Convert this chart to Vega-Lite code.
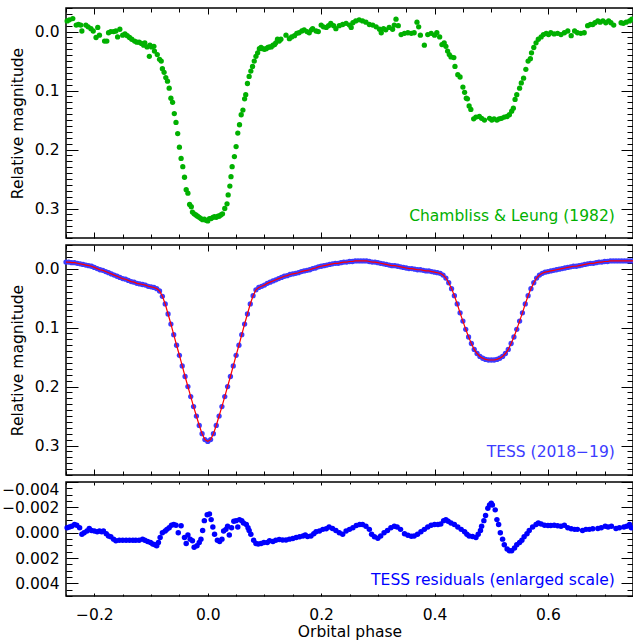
{
"$schema": "https://vega.github.io/schema/vega-lite/v6.json",
"autosize": {"type": "pad"},
"padding": {"left": 0, "top": 0, "right": 0, "bottom": 0},
"background": "white",
"spacing": 7,
"bounds": "flush",
"config": {
  "view": {"stroke": "black", "strokeWidth": 1.5},
  "axis": {"labelFont": "DejaVu Sans", "labelFontSize": 15.5, "titleFont": "DejaVu Sans", "titleFontSize": 15.5, "titleFontWeight": "normal", "labelColor": "black", "titleColor": "black", "tickColor": "black", "tickWidth": 1, "domain": false, "grid": false, "labelOverlap": false}
},
"datasets": {
"cl": [
{"phase":-0.248,"mag":-0.018},{"phase":-0.244,"mag":-0.020},{"phase":-0.238,"mag":-0.022},{"phase":-0.232,"mag":-0.011},{"phase":-0.228,"mag":-0.012},{"phase":-0.224,"mag":-0.011},{"phase":-0.222,"mag":-0.001},{"phase":-0.215,"mag":-0.011},{"phase":-0.211,"mag":-0.008},{"phase":-0.206,"mag":-0.005},{"phase":-0.202,"mag":-0.001},{"phase":-0.197,"mag":0.010},{"phase":-0.194,"mag":-0.007},{"phase":-0.191,"mag":0.006},{"phase":-0.182,"mag":0.016},{"phase":-0.178,"mag":0.016},{"phase":-0.175,"mag":0.002},{"phase":-0.171,"mag":0.000},{"phase":-0.166,"mag":0.000},{"phase":-0.162,"mag":-0.001},{"phase":-0.159,"mag":0.009},{"phase":-0.155,"mag":-0.004},{"phase":-0.150,"mag":0.006},{"phase":-0.146,"mag":0.004},{"phase":-0.142,"mag":0.007},{"phase":-0.138,"mag":0.010},{"phase":-0.134,"mag":0.013},{"phase":-0.129,"mag":0.016},{"phase":-0.125,"mag":0.018},{"phase":-0.121,"mag":0.018},{"phase":-0.117,"mag":0.020},{"phase":-0.113,"mag":0.023},{"phase":-0.111,"mag":0.019},{"phase":-0.107,"mag":0.026},{"phase":-0.103,"mag":0.042},{"phase":-0.102,"mag":0.023},{"phase":-0.099,"mag":0.026},{"phase":-0.095,"mag":0.025},{"phase":-0.094,"mag":0.033},{"phase":-0.089,"mag":0.039},{"phase":-0.085,"mag":0.047},{"phase":-0.082,"mag":0.050},{"phase":-0.080,"mag":0.063},{"phase":-0.077,"mag":0.069},{"phase":-0.074,"mag":0.078},{"phase":-0.071,"mag":0.084},{"phase":-0.068,"mag":0.096},{"phase":-0.065,"mag":0.113},{"phase":-0.062,"mag":0.120},{"phase":-0.059,"mag":0.139},{"phase":-0.056,"mag":0.154},{"phase":-0.053,"mag":0.173},{"phase":-0.050,"mag":0.196},{"phase":-0.047,"mag":0.215},{"phase":-0.044,"mag":0.229},{"phase":-0.041,"mag":0.247},{"phase":-0.038,"mag":0.268},{"phase":-0.035,"mag":0.274},{"phase":-0.032,"mag":0.293},{"phase":-0.029,"mag":0.297},{"phase":-0.027,"mag":0.306},{"phase":-0.024,"mag":0.309},{"phase":-0.021,"mag":0.311},{"phase":-0.018,"mag":0.313},{"phase":-0.015,"mag":0.315},{"phase":-0.012,"mag":0.317},{"phase":-0.009,"mag":0.319},{"phase":-0.006,"mag":0.318},{"phase":-0.003,"mag":0.320},{"phase":0.000,"mag":0.321},{"phase":0.003,"mag":0.317},{"phase":0.006,"mag":0.317},{"phase":0.009,"mag":0.315},{"phase":0.012,"mag":0.314},{"phase":0.015,"mag":0.315},{"phase":0.018,"mag":0.313},{"phase":0.020,"mag":0.313},{"phase":0.023,"mag":0.311},{"phase":0.026,"mag":0.309},{"phase":0.030,"mag":0.300},{"phase":0.034,"mag":0.292},{"phase":0.036,"mag":0.277},{"phase":0.039,"mag":0.262},{"phase":0.041,"mag":0.246},{"phase":0.043,"mag":0.229},{"phase":0.047,"mag":0.212},{"phase":0.050,"mag":0.195},{"phase":0.053,"mag":0.172},{"phase":0.056,"mag":0.158},{"phase":0.059,"mag":0.141},{"phase":0.062,"mag":0.133},{"phase":0.065,"mag":0.114},{"phase":0.067,"mag":0.107},{"phase":0.070,"mag":0.088},{"phase":0.073,"mag":0.076},{"phase":0.076,"mag":0.067},{"phase":0.079,"mag":0.059},{"phase":0.082,"mag":0.050},{"phase":0.085,"mag":0.042},{"phase":0.088,"mag":0.036},{"phase":0.091,"mag":0.029},{"phase":0.094,"mag":0.027},{"phase":0.097,"mag":0.029},{"phase":0.100,"mag":0.030},{"phase":0.103,"mag":0.029},{"phase":0.106,"mag":0.027},{"phase":0.109,"mag":0.026},{"phase":0.112,"mag":0.026},{"phase":0.115,"mag":0.023},{"phase":0.118,"mag":0.022},{"phase":0.120,"mag":0.019},{"phase":0.123,"mag":0.013},{"phase":0.126,"mag":0.016},{"phase":0.129,"mag":0.013},{"phase":0.138,"mag":0.006},{"phase":0.144,"mag":0.012},{"phase":0.148,"mag":0.009},{"phase":0.153,"mag":0.007},{"phase":0.157,"mag":0.003},{"phase":0.161,"mag":0.002},{"phase":0.166,"mag":-0.001},{"phase":0.170,"mag":-0.003},{"phase":0.175,"mag":0.000},{"phase":0.179,"mag":0.002},{"phase":0.183,"mag":-0.003},
{"phase":0.185,"mag":-0.005},{"phase":0.191,"mag":-0.001},{"phase":0.195,"mag":0.000},{"phase":0.200,"mag":-0.011},{"phase":0.204,"mag":-0.008},{"phase":0.209,"mag":-0.007},{"phase":0.213,"mag":-0.010},{"phase":0.217,"mag":-0.014},{"phase":0.222,"mag":-0.010},{"phase":0.226,"mag":-0.005},{"phase":0.232,"mag":-0.010},{"phase":0.238,"mag":-0.012},{"phase":0.244,"mag":-0.014},{"phase":0.250,"mag":-0.011},{"phase":0.253,"mag":-0.007},{"phase":0.256,"mag":-0.015},{"phase":0.261,"mag":-0.018},{"phase":0.267,"mag":-0.020},{"phase":0.273,"mag":-0.018},{"phase":0.279,"mag":-0.016},{"phase":0.285,"mag":-0.012},{"phase":0.291,"mag":-0.011},{"phase":0.297,"mag":-0.008},{"phase":0.303,"mag":-0.004},{"phase":0.306,"mag":0.002},{"phase":0.310,"mag":-0.005},{"phase":0.314,"mag":-0.003},{"phase":0.320,"mag":-0.007},{"phase":0.326,"mag":-0.004},{"phase":0.329,"mag":-0.011},{"phase":0.332,"mag":-0.021},{"phase":0.336,"mag":-0.010},{"phase":0.341,"mag":0.005},{"phase":0.347,"mag":0.003},{"phase":0.353,"mag":0.002},{"phase":0.359,"mag":0.003},{"phase":0.364,"mag":0.002},{"phase":0.369,"mag":-0.016},{"phase":0.372,"mag":-0.008},{"phase":0.375,"mag":0.006},{"phase":0.382,"mag":0.023},{"phase":0.388,"mag":0.005},{"phase":0.394,"mag":0.003},{"phase":0.400,"mag":0.006},{"phase":0.404,"mag":0.002},{"phase":0.409,"mag":0.009},{"phase":0.413,"mag":0.022},{"phase":0.417,"mag":0.019},{"phase":0.420,"mag":0.025},{"phase":0.423,"mag":0.033},{"phase":0.426,"mag":0.039},{"phase":0.429,"mag":0.043},{"phase":0.434,"mag":0.044},{"phase":0.436,"mag":0.059},{"phase":0.441,"mag":0.073},{"phase":0.445,"mag":0.077},{"phase":0.450,"mag":0.094},{"phase":0.453,"mag":0.103},{"phase":0.456,"mag":0.113},{"phase":0.458,"mag":0.114},{"phase":0.461,"mag":0.126},{"phase":0.464,"mag":0.132},{"phase":0.469,"mag":0.148},{"phase":0.473,"mag":0.145},{"phase":0.479,"mag":0.144},{"phase":0.483,"mag":0.147},{"phase":0.488,"mag":0.150},{"phase":0.497,"mag":0.147},{"phase":0.501,"mag":0.150},{"phase":0.505,"mag":0.148},{"phase":0.510,"mag":0.150},{"phase":0.514,"mag":0.148},{"phase":0.518,"mag":0.147},{"phase":0.523,"mag":0.145},{"phase":0.528,"mag":0.144},{"phase":0.532,"mag":0.141},{"phase":0.536,"mag":0.135},{"phase":0.539,"mag":0.130},{"phase":0.542,"mag":0.115},{"phase":0.545,"mag":0.107},{"phase":0.550,"mag":0.096},{"phase":0.553,"mag":0.087},{"phase":0.557,"mag":0.079},{"phase":0.561,"mag":0.064},{"phase":0.565,"mag":0.050},{"phase":0.569,"mag":0.046},{"phase":0.571,"mag":0.036},{"phase":0.575,"mag":0.027},{"phase":0.579,"mag":0.019},{"phase":0.583,"mag":0.013},{"phase":0.588,"mag":0.009},{"phase":0.592,"mag":0.005},{"phase":0.597,"mag":0.003},{"phase":0.601,"mag":0.005},{"phase":0.605,"mag":0.002},{"phase":0.611,"mag":0.004},{"phase":0.617,"mag":0.003},{"phase":0.623,"mag":0.005},{"phase":0.629,"mag":0.002},{"phase":0.635,"mag":-0.001},{"phase":0.641,"mag":0.007},{"phase":0.647,"mag":-0.001},{"phase":0.652,"mag":0.002},{"phase":0.658,"mag":0.003},{"phase":0.664,"mag":0.002},{"phase":0.670,"mag":-0.010},{"phase":0.675,"mag":-0.012},{"phase":0.679,"mag":-0.012},{"phase":0.683,"mag":-0.015},{"phase":0.688,"mag":-0.018},{"phase":0.692,"mag":-0.016},{"phase":0.697,"mag":-0.018},{"phase":0.702,"mag":-0.015},{"phase":0.707,"mag":-0.018},{"phase":0.711,"mag":-0.015},{"phase":0.716,"mag":-0.011},{"phase":0.729,"mag":-0.015},{"phase":0.733,"mag":-0.014},{"phase":0.738,"mag":-0.016},{"phase":0.744,"mag":-0.018},{"phase":0.748,"mag":-0.021}
],
"tess": [
{"phase":-0.25,"mag":-0.011},{"phase":-0.245,"mag":-0.011},{"phase":-0.24,"mag":-0.010},{"phase":-0.235,"mag":-0.010},{"phase":-0.23,"mag":-0.009},{"phase":-0.225,"mag":-0.008},{"phase":-0.22,"mag":-0.007},{"phase":-0.215,"mag":-0.006},{"phase":-0.21,"mag":-0.005},{"phase":-0.205,"mag":-0.004},{"phase":-0.2,"mag":-0.002},{"phase":-0.195,"mag":0.000},{"phase":-0.19,"mag":0.002},{"phase":-0.185,"mag":0.003},{"phase":-0.18,"mag":0.005},{"phase":-0.175,"mag":0.007},{"phase":-0.17,"mag":0.009},{"phase":-0.165,"mag":0.011},{"phase":-0.16,"mag":0.013},{"phase":-0.155,"mag":0.015},{"phase":-0.15,"mag":0.017},{"phase":-0.145,"mag":0.018},{"phase":-0.14,"mag":0.020},{"phase":-0.135,"mag":0.022},{"phase":-0.13,"mag":0.023},{"phase":-0.125,"mag":0.025},{"phase":-0.12,"mag":0.026},{"phase":-0.115,"mag":0.027},{"phase":-0.11,"mag":0.028},{"phase":-0.105,"mag":0.030},{"phase":-0.1,"mag":0.031},{"phase":-0.095,"mag":0.032},{"phase":-0.09,"mag":0.034},{"phase":-0.085,"mag":0.038},{"phase":-0.08,"mag":0.047},{"phase":-0.075,"mag":0.060},{"phase":-0.07,"mag":0.077},{"phase":-0.065,"mag":0.094},{"phase":-0.06,"mag":0.112},{"phase":-0.055,"mag":0.130},{"phase":-0.05,"mag":0.147},{"phase":-0.045,"mag":0.165},{"phase":-0.04,"mag":0.183},{"phase":-0.035,"mag":0.200},{"phase":-0.03,"mag":0.217},{"phase":-0.025,"mag":0.234},{"phase":-0.02,"mag":0.250},{"phase":-0.015,"mag":0.266},{"phase":-0.01,"mag":0.280},{"phase":-0.005,"mag":0.290},{"phase":0,"mag":0.293},{"phase":0.005,"mag":0.290},{"phase":0.01,"mag":0.280},{"phase":0.015,"mag":0.266},{"phase":0.02,"mag":0.250},{"phase":0.025,"mag":0.234},{"phase":0.03,"mag":0.217},{"phase":0.035,"mag":0.200},{"phase":0.04,"mag":0.183},{"phase":0.045,"mag":0.165},{"phase":0.05,"mag":0.147},{"phase":0.055,"mag":0.130},{"phase":0.06,"mag":0.112},{"phase":0.065,"mag":0.094},{"phase":0.07,"mag":0.077},{"phase":0.075,"mag":0.060},{"phase":0.08,"mag":0.046},{"phase":0.085,"mag":0.036},{"phase":0.09,"mag":0.032},{"phase":0.095,"mag":0.030},{"phase":0.1,"mag":0.028},{"phase":0.105,"mag":0.025},{"phase":0.11,"mag":0.023},{"phase":0.115,"mag":0.021},{"phase":0.12,"mag":0.019},{"phase":0.125,"mag":0.017},{"phase":0.13,"mag":0.015},{"phase":0.135,"mag":0.013},{"phase":0.14,"mag":0.012},{"phase":0.145,"mag":0.010},{"phase":0.15,"mag":0.009},{"phase":0.155,"mag":0.008},{"phase":0.16,"mag":0.007},{"phase":0.165,"mag":0.005},{"phase":0.17,"mag":0.004},{"phase":0.175,"mag":0.003},{"phase":0.18,"mag":0.002},{"phase":0.185,"mag":0.000},{"phase":0.19,"mag":-0.001},{"phase":0.195,"mag":-0.003},{"phase":0.2,"mag":-0.004},{"phase":0.205,"mag":-0.005},{"phase":0.21,"mag":-0.006},{"phase":0.215,"mag":-0.007},{"phase":0.22,"mag":-0.008},{"phase":0.225,"mag":-0.009},{"phase":0.23,"mag":-0.009},{"phase":0.235,"mag":-0.010},{"phase":0.24,"mag":-0.011},{"phase":0.245,"mag":-0.011},{"phase":0.25,"mag":-0.012},{"phase":0.255,"mag":-0.012},{"phase":0.26,"mag":-0.013},{"phase":0.265,"mag":-0.013},{"phase":0.27,"mag":-0.013},{"phase":0.275,"mag":-0.013},{"phase":0.28,"mag":-0.013},{"phase":0.285,"mag":-0.012},{"phase":0.29,"mag":-0.011},{"phase":0.295,"mag":-0.011},{"phase":0.3,"mag":-0.010},{"phase":0.305,"mag":-0.009},{"phase":0.31,"mag":-0.008},{"phase":0.315,"mag":-0.007},{"phase":0.32,"mag":-0.006},{"phase":0.325,"mag":-0.005},{"phase":0.33,"mag":-0.005},{"phase":0.335,"mag":-0.004},{"phase":0.34,"mag":-0.003},{"phase":0.345,"mag":-0.002},{"phase":0.35,"mag":-0.001},{"phase":0.355,"mag":0.000},{"phase":0.36,"mag":0.000},{"phase":0.365,"mag":0.001},{"phase":0.37,"mag":0.002},{"phase":0.375,"mag":0.002},{"phase":0.38,"mag":0.003},{"phase":0.385,"mag":0.004},{"phase":0.39,"mag":0.004},{"phase":0.395,"mag":0.005},{"phase":0.4,"mag":0.006},{"phase":0.405,"mag":0.007},{"phase":0.41,"mag":0.008},{"phase":0.415,"mag":0.011},{"phase":0.42,"mag":0.016},{"phase":0.425,"mag":0.024},{"phase":0.43,"mag":0.034},{"phase":0.435,"mag":0.046},{"phase":0.44,"mag":0.060},{"phase":0.445,"mag":0.075},{"phase":0.45,"mag":0.089},{"phase":0.455,"mag":0.103},{"phase":0.46,"mag":0.116},{"phase":0.465,"mag":0.127},{"phase":0.47,"mag":0.137},{"phase":0.475,"mag":0.144},{"phase":0.48,"mag":0.149},{"phase":0.485,"mag":0.152},{"phase":0.49,"mag":0.154},{"phase":0.495,"mag":0.155},{"phase":0.5,"mag":0.155},{"phase":0.505,"mag":0.155},{"phase":0.51,"mag":0.154},{"phase":0.515,"mag":0.152},{"phase":0.52,"mag":0.149},{"phase":0.525,"mag":0.144},{"phase":0.53,"mag":0.137},{"phase":0.535,"mag":0.127},{"phase":0.54,"mag":0.116},{"phase":0.545,"mag":0.103},{"phase":0.55,"mag":0.089},{"phase":0.555,"mag":0.075},{"phase":0.56,"mag":0.060},{"phase":0.565,"mag":0.046},{"phase":0.57,"mag":0.034},{"phase":0.575,"mag":0.024},{"phase":0.58,"mag":0.016},{"phase":0.585,"mag":0.011},{"phase":0.59,"mag":0.008},{"phase":0.595,"mag":0.006},{"phase":0.6,"mag":0.005},{"phase":0.605,"mag":0.004},{"phase":0.61,"mag":0.003},{"phase":0.615,"mag":0.002},{"phase":0.62,"mag":0.001},{"phase":0.625,"mag":0.000},{"phase":0.63,"mag":-0.001},{"phase":0.635,"mag":-0.002},{"phase":0.64,"mag":-0.003},{"phase":0.645,"mag":-0.004},{"phase":0.65,"mag":-0.004},{"phase":0.655,"mag":-0.005},{"phase":0.66,"mag":-0.006},{"phase":0.665,"mag":-0.007},{"phase":0.67,"mag":-0.008},{"phase":0.675,"mag":-0.009},{"phase":0.68,"mag":-0.009},{"phase":0.685,"mag":-0.010},{"phase":0.69,"mag":-0.011},{"phase":0.695,"mag":-0.011},{"phase":0.7,"mag":-0.012},{"phase":0.705,"mag":-0.012},{"phase":0.71,"mag":-0.013},{"phase":0.715,"mag":-0.013},{"phase":0.72,"mag":-0.013},{"phase":0.725,"mag":-0.013},{"phase":0.73,"mag":-0.013},{"phase":0.735,"mag":-0.013},{"phase":0.74,"mag":-0.013},{"phase":0.745,"mag":-0.013},{"phase":0.75,"mag":-0.013}
],
"res": [
{"phase":-0.248,"res":-0.00039},{"phase":-0.244,"res":-0.00044},{"phase":-0.240,"res":-0.00051},{"phase":-0.235,"res":-0.00064},{"phase":-0.231,"res":-0.00059},{"phase":-0.226,"res":-0.00039},{"phase":-0.222,"res":0.00013},{"phase":-0.218,"res":0.00000},{"phase":-0.213,"res":-0.00013},{"phase":-0.209,"res":-0.00033},{"phase":-0.205,"res":-0.00018},{"phase":-0.200,"res":-0.00013},{"phase":-0.195,"res":-0.00008},{"phase":-0.191,"res":-0.00013},{"phase":-0.187,"res":-0.00008},{"phase":-0.184,"res":-0.00013},{"phase":-0.179,"res":0.00008},{"phase":-0.175,"res":0.00026},{"phase":-0.171,"res":0.00033},{"phase":-0.166,"res":0.00051},{"phase":-0.162,"res":0.00064},{"phase":-0.156,"res":0.00059},{"phase":-0.150,"res":0.00059},{"phase":-0.144,"res":0.00059},{"phase":-0.138,"res":0.00059},{"phase":-0.132,"res":0.00059},{"phase":-0.127,"res":0.00059},{"phase":-0.121,"res":0.00059},{"phase":-0.115,"res":0.00051},{"phase":-0.111,"res":0.00059},{"phase":-0.106,"res":0.00069},{"phase":-0.101,"res":0.00077},{"phase":-0.097,"res":0.00090},{"phase":-0.093,"res":0.00095},{"phase":-0.090,"res":0.00103},{"phase":-0.087,"res":0.00077},{"phase":-0.084,"res":0.00039},{"phase":-0.080,"res":0.00000},{"phase":-0.075,"res":-0.00013},{"phase":-0.072,"res":-0.00026},{"phase":-0.068,"res":-0.00039},{"phase":-0.064,"res":-0.00059},{"phase":-0.060,"res":-0.00064},{"phase":-0.056,"res":-0.00059},{"phase":-0.052,"res":0.00000},{"phase":-0.047,"res":-0.00055},{"phase":-0.041,"res":0.00039},{"phase":-0.038,"res":0.00085},{"phase":-0.035,"res":0.00018},{"phase":-0.031,"res":0.00051},{"phase":-0.027,"res":0.00064},{"phase":-0.024,"res":0.00116},{"phase":-0.019,"res":0.00103},{"phase":-0.015,"res":0.00077},{"phase":-0.012,"res":0.00051},{"phase":-0.009,"res":-0.00018},{"phase":-0.006,"res":-0.00095},{"phase":-0.001,"res":-0.00142},{"phase":0.003,"res":-0.00147},{"phase":0.006,"res":-0.00103},{"phase":0.009,"res":-0.00044},{"phase":0.012,"res":0.00013},{"phase":0.017,"res":0.00059},{"phase":0.021,"res":0.00069},{"phase":0.025,"res":0.00051},{"phase":0.028,"res":-0.00013},{"phase":0.032,"res":-0.00026},{"phase":0.035,"res":-0.00051},{"phase":0.038,"res":0.00018},{"phase":0.042,"res":-0.00039},{"phase":0.046,"res":-0.00090},{"phase":0.050,"res":-0.00095},{"phase":0.053,"res":-0.00044},{"phase":0.056,"res":-0.00103},{"phase":0.060,"res":-0.00095},{"phase":0.063,"res":-0.00077},{"phase":0.068,"res":-0.00064},{"phase":0.071,"res":-0.00039},{"phase":0.073,"res":-0.00018},{"phase":0.076,"res":0.00013},{"phase":0.081,"res":0.00059},{"phase":0.085,"res":0.00085},{"phase":0.089,"res":0.00090},{"phase":0.094,"res":0.00085},{"phase":0.099,"res":0.00077},{"phase":0.105,"res":0.00077},{"phase":0.109,"res":0.00064},{"phase":0.115,"res":0.00069},{"phase":0.120,"res":0.00059},{"phase":0.126,"res":0.00054},{"phase":0.132,"res":0.00057},{"phase":0.138,"res":0.00057},{"phase":0.144,"res":0.00051},{"phase":0.150,"res":0.00046},{"phase":0.156,"res":0.00039},{"phase":0.162,"res":0.00033},{"phase":0.168,"res":0.00026},{"phase":0.172,"res":0.00018},{"phase":0.176,"res":0.00031},{"phase":0.182,"res":0.00026},{"phase":0.187,"res":0.00008},{"phase":0.191,"res":-0.00008},{"phase":0.197,"res":-0.00013},{"phase":0.203,"res":-0.00026},{"phase":0.209,"res":-0.00031},{"phase":0.214,"res":-0.00044},{"phase":0.220,"res":-0.00033},{"phase":0.226,"res":-0.00018},{"phase":0.232,"res":0.00000},{"phase":0.238,"res":0.00013},{"phase":0.244,"res":-0.00013},{"phase":0.250,"res":-0.00026},{"phase":0.256,"res":-0.00039},{"phase":0.262,"res":-0.00057},{"phase":0.268,"res":-0.00064},{"phase":0.273,"res":-0.00064},{"phase":0.279,"res":-0.00051},{"phase":0.285,"res":-0.00026},{"phase":0.289,"res":0.00013},{"phase":0.294,"res":0.00033},{"phase":0.300,"res":0.00044},{"phase":0.305,"res":0.00026},{"phase":0.311,"res":0.00000},{"phase":0.317,"res":-0.00018},{"phase":0.323,"res":-0.00039},{"phase":0.329,"res":-0.00051},{"phase":0.334,"res":-0.00044},{"phase":0.340,"res":-0.00026},{"phase":0.347,"res":0.00008},{"phase":0.353,"res":0.00021},{"phase":0.359,"res":0.00028},{"phase":0.364,"res":0.00026},{"phase":0.370,"res":0.00013},{"phase":0.376,"res":-0.00008},{"phase":0.382,"res":-0.00026},{"phase":0.388,"res":-0.00044},{"phase":0.394,"res":-0.00059},{"phase":0.400,"res":-0.00064},{"phase":0.406,"res":-0.00064},{"phase":0.411,"res":-0.00069},{"phase":0.416,"res":-0.00095},{"phase":0.420,"res":-0.00103},{"phase":0.424,"res":-0.00090},{"phase":0.429,"res":-0.00077},{"phase":0.435,"res":-0.00064},{"phase":0.441,"res":-0.00044},{"phase":0.447,"res":-0.00026},{"phase":0.453,"res":-0.00008},{"phase":0.457,"res":0.00013},{"phase":0.461,"res":0.00026},{"phase":0.467,"res":0.00031},{"phase":0.473,"res":0.00039},{"phase":0.477,"res":0.00013},{"phase":0.481,"res":-0.00018},{"phase":0.483,"res":-0.00051},{"phase":0.487,"res":-0.00095},{"phase":0.490,"res":-0.00136},{"phase":0.494,"res":-0.00193},{"phase":0.497,"res":-0.00219},{"phase":0.500,"res":-0.00232},{"phase":0.502,"res":-0.00219},{"phase":0.507,"res":-0.00180},{"phase":0.510,"res":-0.00103},{"phase":0.513,"res":-0.00064},{"phase":0.516,"res":0.00000},{"phase":0.520,"res":0.00051},{"phase":0.523,"res":0.00095},{"phase":0.528,"res":0.00129},{"phase":0.532,"res":0.00142},{"phase":0.536,"res":0.00142},{"phase":0.541,"res":0.00121},{"phase":0.545,"res":0.00095},{"phase":0.550,"res":0.00077},{"phase":0.554,"res":0.00059},{"phase":0.558,"res":0.00033},{"phase":0.563,"res":0.00008},{"phase":0.567,"res":-0.00018},{"phase":0.573,"res":-0.00044},{"phase":0.579,"res":-0.00064},{"phase":0.583,"res":-0.00077},{"phase":0.588,"res":-0.00069},{"phase":0.594,"res":-0.00059},{"phase":0.600,"res":-0.00057},{"phase":0.605,"res":-0.00057},{"phase":0.611,"res":-0.00059},{"phase":0.617,"res":-0.00054},{"phase":0.623,"res":-0.00051},{"phase":0.629,"res":-0.00059},{"phase":0.635,"res":-0.00039},{"phase":0.641,"res":-0.00031},{"phase":0.647,"res":-0.00026},{"phase":0.652,"res":-0.00026},{"phase":0.661,"res":-0.00018},{"phase":0.667,"res":-0.00026},{"phase":0.673,"res":-0.00026},{"phase":0.679,"res":-0.00031},{"phase":0.688,"res":-0.00033},{"phase":0.694,"res":-0.00039},{"phase":0.701,"res":-0.00051},{"phase":0.706,"res":-0.00044},{"phase":0.712,"res":-0.00051},{"phase":0.720,"res":-0.00033},{"phase":0.726,"res":-0.00039},{"phase":0.734,"res":-0.00044},{"phase":0.739,"res":-0.00051},{"phase":0.744,"res":-0.00064},{"phase":0.747,"res":-0.00039}
]
},
"vconcat": [
{
  "width": 567, "height": 230,
  "resolve": {"axis": {"x": "independent", "y": "independent"}},
  "layer": [
    {"data": {"name": "cl"},
     "mark": {"type": "circle", "size": 28, "color": "#00b000", "opacity": 1},
     "encoding": {
       "x": {"field": "phase", "type": "quantitative", "scale": {"domain": [-0.25, 0.75], "nice": false, "zero": false},
             "axis": {"orient": "bottom", "values": [-0.25,-0.2,-0.15,-0.1,-0.05,0,0.05,0.1,0.15,0.2,0.25,0.3,0.35,0.4,0.45,0.5,0.55,0.6,0.65,0.7,0.75], "labels": false, "title": null,
                      "tickSize": {"condition": {"test": "abs(datum.value*5-round(datum.value*5))<0.001", "value": -6}, "value": -4}}},
       "y": {"field": "mag", "type": "quantitative", "scale": {"domain": [-0.04, 0.35], "reverse": true, "nice": false, "zero": false},
             "axis": {"orient": "left", "values": [-0.04,-0.03,-0.02,-0.01,0,0.01,0.02,0.03,0.04,0.05,0.06,0.07,0.08,0.09,0.1,0.11,0.12,0.13,0.14,0.15,0.16,0.17,0.18,0.19,0.2,0.21,0.22,0.23,0.24,0.25,0.26,0.27,0.28,0.29,0.3,0.31,0.32,0.33,0.34,0.35],
                      "labelExpr": "abs(datum.value*10-round(datum.value*10))<0.001 ? format(datum.value, '.1f') : ''",
                      "labelPadding": 19, "title": "Relative magnitude", "titleX": -49, "titleBaseline": "middle",
                      "tickSize": {"condition": {"test": "abs(datum.value*10-round(datum.value*10))<0.001", "value": -12}, "value": -6}}}
     }},
    {"data": {"values": [{"label": "Chambliss & Leung (1982)"}]},
     "mark": {"type": "text", "align": "right", "baseline": "middle", "font": "DejaVu Sans", "fontSize": 15.5, "color": "#00b000"},
     "encoding": {
       "x": {"datum": 0.718, "type": "quantitative", "scale": {"domain": [-0.25, 0.75], "nice": false, "zero": false},
             "axis": {"orient": "top", "values": [-0.25,-0.2,-0.15,-0.1,-0.05,0,0.05,0.1,0.15,0.2,0.25,0.3,0.35,0.4,0.45,0.5,0.55,0.6,0.65,0.7,0.75], "labels": false, "title": null,
                      "tickSize": {"condition": {"test": "abs(datum.value*5-round(datum.value*5))<0.001", "value": -6}, "value": -4}}},
       "y": {"datum": 0.312, "type": "quantitative", "scale": {"domain": [-0.04, 0.35], "reverse": true, "nice": false, "zero": false},
             "axis": {"orient": "right", "values": [-0.04,-0.03,-0.02,-0.01,0,0.01,0.02,0.03,0.04,0.05,0.06,0.07,0.08,0.09,0.1,0.11,0.12,0.13,0.14,0.15,0.16,0.17,0.18,0.19,0.2,0.21,0.22,0.23,0.24,0.25,0.26,0.27,0.28,0.29,0.3,0.31,0.32,0.33,0.34,0.35],
                      "labels": false, "title": null,
                      "tickSize": {"condition": {"test": "abs(datum.value*10-round(datum.value*10))<0.001", "value": -12}, "value": -6}}},
       "text": {"field": "label"}
     }}
  ]
},
{
  "width": 567, "height": 230,
  "resolve": {"axis": {"x": "independent", "y": "independent"}},
  "layer": [
    {"data": {"name": "tess"},
     "mark": {"type": "circle", "size": 28, "color": "#3c3cff", "opacity": 1},
     "encoding": {
       "x": {"field": "phase", "type": "quantitative", "scale": {"domain": [-0.25, 0.75], "nice": false, "zero": false},
             "axis": {"orient": "bottom", "values": [-0.25,-0.2,-0.15,-0.1,-0.05,0,0.05,0.1,0.15,0.2,0.25,0.3,0.35,0.4,0.45,0.5,0.55,0.6,0.65,0.7,0.75], "labels": false, "title": null,
                      "tickSize": {"condition": {"test": "abs(datum.value*5-round(datum.value*5))<0.001", "value": -6}, "value": -4}}},
       "y": {"field": "mag", "type": "quantitative", "scale": {"domain": [-0.04, 0.35], "reverse": true, "nice": false, "zero": false},
             "axis": {"orient": "left", "values": [-0.04,-0.03,-0.02,-0.01,0,0.01,0.02,0.03,0.04,0.05,0.06,0.07,0.08,0.09,0.1,0.11,0.12,0.13,0.14,0.15,0.16,0.17,0.18,0.19,0.2,0.21,0.22,0.23,0.24,0.25,0.26,0.27,0.28,0.29,0.3,0.31,0.32,0.33,0.34,0.35],
                      "labelExpr": "abs(datum.value*10-round(datum.value*10))<0.001 ? format(datum.value, '.1f') : ''",
                      "labelPadding": 19, "title": "Relative magnitude", "titleX": -49, "titleBaseline": "middle",
                      "tickSize": {"condition": {"test": "abs(datum.value*10-round(datum.value*10))<0.001", "value": -12}, "value": -6}}}
     }},
    {"data": {"name": "tess"},
     "mark": {"type": "line", "color": "#ff0000", "strokeWidth": 1.2},
     "encoding": {
       "x": {"field": "phase", "type": "quantitative", "scale": {"domain": [-0.25, 0.75], "nice": false, "zero": false},
             "axis": {"orient": "top", "values": [-0.25,-0.2,-0.15,-0.1,-0.05,0,0.05,0.1,0.15,0.2,0.25,0.3,0.35,0.4,0.45,0.5,0.55,0.6,0.65,0.7,0.75], "labels": false, "title": null,
                      "tickSize": {"condition": {"test": "abs(datum.value*5-round(datum.value*5))<0.001", "value": -6}, "value": -4}}},
       "y": {"field": "mag", "type": "quantitative", "scale": {"domain": [-0.04, 0.35], "reverse": true, "nice": false, "zero": false},
             "axis": {"orient": "right", "values": [-0.04,-0.03,-0.02,-0.01,0,0.01,0.02,0.03,0.04,0.05,0.06,0.07,0.08,0.09,0.1,0.11,0.12,0.13,0.14,0.15,0.16,0.17,0.18,0.19,0.2,0.21,0.22,0.23,0.24,0.25,0.26,0.27,0.28,0.29,0.3,0.31,0.32,0.33,0.34,0.35],
                      "labels": false, "title": null,
                      "tickSize": {"condition": {"test": "abs(datum.value*10-round(datum.value*10))<0.001", "value": -12}, "value": -6}}}
     }},
    {"data": {"values": [{"label": "TESS (2018−19)"}]},
     "mark": {"type": "text", "align": "right", "baseline": "middle", "font": "DejaVu Sans", "fontSize": 15.5, "color": "#3c3cff"},
     "encoding": {
       "x": {"datum": 0.718, "type": "quantitative", "scale": {"domain": [-0.25, 0.75], "nice": false, "zero": false}, "axis": null},
       "y": {"datum": 0.311, "type": "quantitative", "scale": {"domain": [-0.04, 0.35], "reverse": true, "nice": false, "zero": false}, "axis": null},
       "text": {"field": "label"}
     }}
  ]
},
{
  "width": 567, "height": 114,
  "resolve": {"axis": {"x": "independent", "y": "independent"}},
  "layer": [
    {"data": {"name": "res"},
     "mark": {"type": "circle", "size": 30, "color": "#0000ff", "opacity": 1},
     "encoding": {
       "x": {"field": "phase", "type": "quantitative", "scale": {"domain": [-0.25, 0.75], "nice": false, "zero": false},
             "axis": {"orient": "bottom", "values": [-0.25,-0.2,-0.15,-0.1,-0.05,0,0.05,0.1,0.15,0.2,0.25,0.3,0.35,0.4,0.45,0.5,0.55,0.6,0.65,0.7,0.75],
                      "labelExpr": "abs(datum.value*5-round(datum.value*5))<0.001 ? format(datum.value, '.1f') : ''",
                      "labelPadding": 14, "labelFlush": false, "title": "Orbital phase", "titleY": 35, "titleBaseline": "middle",
                      "tickSize": {"condition": {"test": "abs(datum.value*5-round(datum.value*5))<0.001", "value": -3}, "value": -2}}},
       "y": {"field": "res", "type": "quantitative", "scale": {"domain": [-0.004, 0.005], "reverse": true, "nice": false, "zero": false},
             "axis": {"orient": "left", "values": [-0.004,-0.0035,-0.003,-0.0025,-0.002,-0.0015,-0.001,-0.0005,0,0.0005,0.001,0.0015,0.002,0.0025,0.003,0.0035,0.004,0.0045,0.005],
                      "labelExpr": "abs(datum.value*500-round(datum.value*500))<0.001 ? format(datum.value, '.3f') : ''",
                      "labelPadding": 19, "labelFlush": true, "title": null,
                      "tickSize": {"condition": {"test": "abs(datum.value*500-round(datum.value*500))<0.001", "value": -12}, "value": -6}}}
     }},
    {"mark": {"type": "rule", "color": "#ff0000", "strokeWidth": 1.3},
     "encoding": {
       "y": {"datum": 0, "type": "quantitative", "scale": {"domain": [-0.004, 0.005], "reverse": true, "nice": false, "zero": false}, "axis": null}
     }},
    {"data": {"values": [{"label": "TESS residuals (enlarged scale)"}]},
     "mark": {"type": "text", "align": "right", "baseline": "middle", "font": "DejaVu Sans", "fontSize": 15.5, "color": "#0000ff"},
     "encoding": {
       "x": {"datum": 0.718, "type": "quantitative", "scale": {"domain": [-0.25, 0.75], "nice": false, "zero": false},
             "axis": {"orient": "top", "values": [-0.25,-0.2,-0.15,-0.1,-0.05,0,0.05,0.1,0.15,0.2,0.25,0.3,0.35,0.4,0.45,0.5,0.55,0.6,0.65,0.7,0.75], "labels": false, "title": null,
                      "tickSize": {"condition": {"test": "abs(datum.value*5-round(datum.value*5))<0.001", "value": -3}, "value": -2}}},
       "y": {"datum": 0.00374, "type": "quantitative", "scale": {"domain": [-0.004, 0.005], "reverse": true, "nice": false, "zero": false},
             "axis": {"orient": "right", "values": [-0.004,-0.0035,-0.003,-0.0025,-0.002,-0.0015,-0.001,-0.0005,0,0.0005,0.001,0.0015,0.002,0.0025,0.003,0.0035,0.004,0.0045,0.005],
                      "labels": false, "title": null,
                      "tickSize": {"condition": {"test": "abs(datum.value*500-round(datum.value*500))<0.001", "value": -12}, "value": -6}}},
       "text": {"field": "label"}
     }}
  ]
}
]
}
